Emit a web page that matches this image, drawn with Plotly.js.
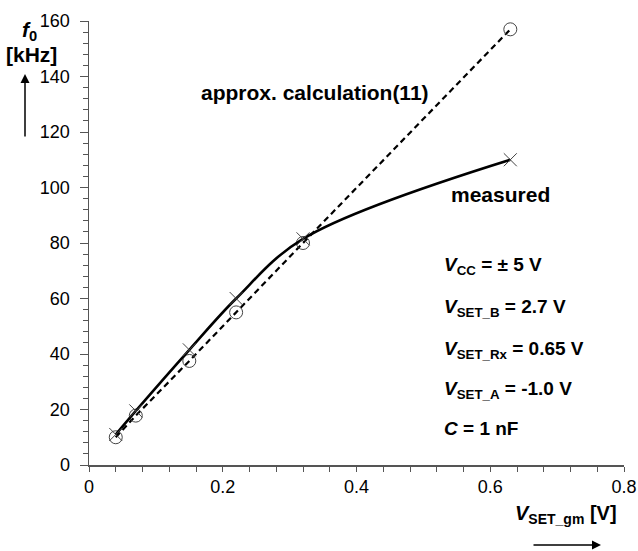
<!DOCTYPE html>
<html><head><meta charset="utf-8">
<script src="https://cdn.plot.ly/plotly-3.0.1.min.js"></script>
<style>html,body{margin:0;padding:0;background:#fff}#chart{width:638px;height:551px}</style>
</head><body><div id="chart"></div>
<script>
// Data
const vsetGm = [0.04, 0.07, 0.15, 0.22, 0.32, 0.63];
const f0Measured = [11, 19.5, 41.5, 60, 81.5, 110];
const f0Approx = [10, 17.8, 37.5, 55, 80, 157];
const xTickVals = [0, 0.2, 0.4, 0.6, 0.8];
const xTickText = ['0', '0.2', '0.4', '0.6', '0.8'];
const yTickVals = [0, 20, 40, 60, 80, 100, 120, 140, 160];
const yTickText = ['0', '20', '40', '60', '80', '100', '120', '140', '160'];

const FONT = 'Liberation Sans, Arial, sans-serif';

const traces = [
  {
    x: vsetGm, y: f0Approx, type: 'scatter', mode: 'lines+markers',
    line: {color: '#000', width: 2.2, dash: '6px,4px'},
    marker: {symbol: 'circle-open', size: 13, color: '#444', line: {width: 1, color: '#444'}},
    hoverinfo: 'skip'
  },
  {
    x: vsetGm, y: f0Measured, type: 'scatter', mode: 'lines+markers',
    line: {color: '#000', width: 2.6, shape: 'spline', smoothing: 1},
    marker: {symbol: 'x-thin-open', size: 13, color: '#444', line: {width: 1, color: '#444'}},
    hoverinfo: 'skip'
  }
];

const PX = px => (px - 89) / 535;
const PY = py => (465 - py) / 444;
const ann = (text, px, py, xa, ya, size) => ({
  text, x: PX(px), y: PY(py), xref: 'paper', yref: 'paper', xanchor: xa, yanchor: ya,
  showarrow: false, font: {family: FONT, size: size, color: '#000'}
});

const layout = {
  width: 638, height: 551,
  margin: {l: 89, r: 14, t: 21, b: 86},
  paper_bgcolor: '#fff', plot_bgcolor: '#fff',
  showlegend: false,
  font: {family: FONT, size: 18, color: '#000'},
  xaxis: {
    range: [0, 0.8], tickvals: xTickVals, ticktext: xTickText,
    ticks: 'outside', ticklen: 5, tickwidth: 1, tickcolor: '#555',
    minor: {dtick: 0.04, ticks: 'outside', ticklen: 5, tickwidth: 1, tickcolor: '#555'},
    showline: true, linecolor: '#555', linewidth: 1.5,
    showgrid: false, zeroline: false,
    tickfont: {family: FONT, size: 18, color: '#000'}
  },
  yaxis: {
    range: [0, 160], tickvals: yTickVals, ticktext: yTickText,
    ticks: 'outside', ticklen: 8, tickwidth: 1, tickcolor: '#555',
    ticklabelstandoff: 6,
    minor: {dtick: 4, ticks: 'outside', ticklen: 5, tickwidth: 1, tickcolor: '#555'},
    showline: true, linecolor: '#555', linewidth: 1.5,
    showgrid: false, zeroline: false,
    tickfont: {family: FONT, size: 18, color: '#000'}
  },
  annotations: [
    ann('<b><i>f</i><sub>0</sub></b>', 39, 31, 'right', 'middle', 21),
    ann('<b>[kHz]</b>', 59, 54, 'right', 'middle', 21),
    {x: PX(25), y: PY(74), xref: 'paper', yref: 'paper', ax: 0, ay: 64,
     text: '', showarrow: true, arrowhead: 2, arrowsize: 1.2, arrowwidth: 1.5, arrowcolor: '#000'},
    ann('<b>approx. calculation(11)</b>', 199, 92, 'left', 'middle', 21),
    ann('<b>measured</b>', 449, 194, 'left', 'middle', 21),
    ann('<b><i>V</i><sub>CC</sub> = ± 5 V</b>', 442, 266, 'left', 'middle', 19),
    ann('<b><i>V</i><sub>SET_B</sub> = 2.7 V</b>', 442, 308, 'left', 'middle', 19),
    ann('<b><i>V</i><sub>SET_Rx</sub> = 0.65 V</b>', 442, 350, 'left', 'middle', 19),
    ann('<b><i>V</i><sub>SET_A</sub> = -1.0 V</b>', 442, 390, 'left', 'middle', 19),
    ann('<b><i>C</i> = 1 nF</b>', 442, 428, 'left', 'middle', 19),
    ann('<b><i>V</i><sub>SET_gm</sub> [V]</b>', 619, 514, 'right', 'middle', 20),
    {x: PX(601), y: PY(545), xref: 'paper', yref: 'paper', ax: -69, ay: 0,
     text: '', showarrow: true, arrowhead: 2, arrowsize: 1.2, arrowwidth: 1.5, arrowcolor: '#000'}
  ]
};

Plotly.newPlot('chart', traces, layout, {staticPlot: true, displayModeBar: false});
</script>
</body></html>
